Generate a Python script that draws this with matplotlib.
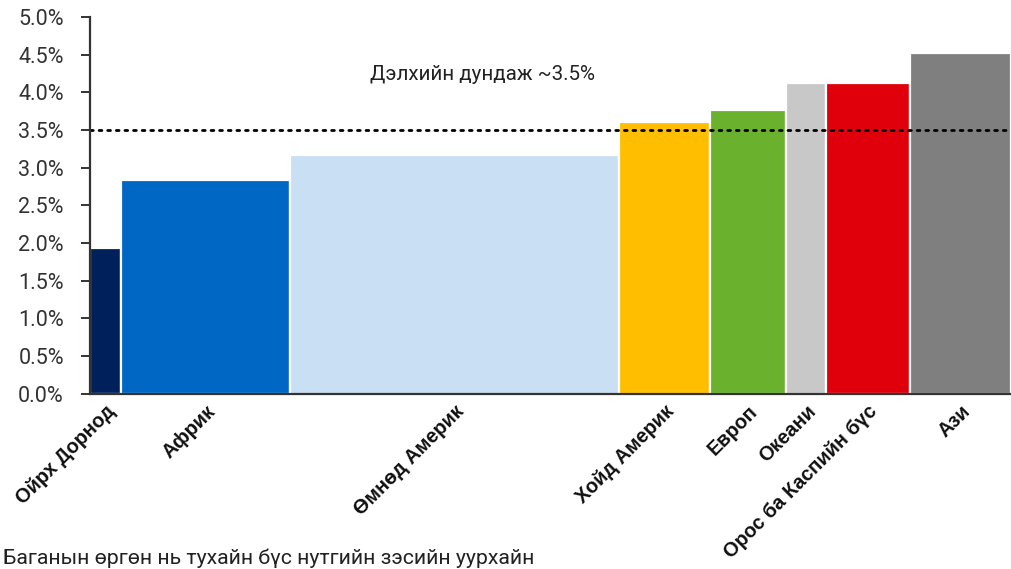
import matplotlib
matplotlib.use("Agg")
import matplotlib.pyplot as plt
import numpy as np

regions = ["Ойрх Дорнод", "Африк", "Өмнөд Америк", "Хойд Америк", "Европ",
           "Океани", "Орос ба Каспийн бүс", "Ази"]
widths = [3.4, 18.4, 35.7, 9.9, 8.3, 4.3, 9.1, 11.0]
values = [1.93, 2.83, 3.17, 3.60, 3.77, 4.12, 4.13, 4.52]
colors = ["#00205B", "#0067C5", "#C9DFF3", "#FFBE00", "#6AB22E",
          "#C8C8C8", "#E0000B", "#7F7F7F"]
world_avg = 3.5
yticks = [0, 0.5, 1.0, 1.5, 2.0, 2.5, 3.0, 3.5, 4.0, 4.5, 5.0]
avg_label = "Дэлхийн дундаж ~3.5%"
note = "Баганын өргөн нь тухайн бүс нутгийн зэсийн уурхайн"

W, H = 1011, 569
fig = plt.figure(figsize=(W / 100, H / 100), dpi=100)
ax = fig.add_axes([89.5 / W, 1 - 393.5 / H, (W - 89.5) / W, (393.5 - 17) / H])

lefts = np.concatenate([[0], np.cumsum(widths)[:-1]])
ax.bar(lefts, values, width=widths, align="edge", color=colors,
       edgecolor="white", linewidth=1.6, zorder=2)

total = float(np.sum(widths))
ax.set_xlim(0, total)
ax.set_ylim(0, 5.0)

ax.axhline(world_avg, color="black", linestyle=(0, (1, 2.1)), linewidth=2.0,
           dash_capstyle="round", zorder=3)
ax.text(30.5, 4.23, avg_label, ha="left", va="center", fontsize=14.8,
        family="Roboto", color="#222222")

ax.set_yticks(yticks)
ax.set_yticklabels([f"{v:.1f}%" for v in yticks], family="Roboto",
                   fontsize=15.5, color="#333333")
ax.tick_params(axis="y", length=6.5, width=1.4, color="#333333", pad=12)

centers = lefts + np.array(widths) / 2
ax.set_xticks(centers)
ax.set_xticklabels(regions, rotation=45, ha="right", va="top",
                   rotation_mode="anchor", fontsize=14.3, fontweight="bold",
                   family="Liberation Sans", color="#111111")
ax.tick_params(axis="x", length=0, pad=6)

for s in ["top", "right"]:
    ax.spines[s].set_visible(False)
for s in ["left", "bottom"]:
    ax.spines[s].set_color("#333333")
    ax.spines[s].set_linewidth(1.6)
    ax.spines[s].set_zorder(4)

fig.text(3 / W, 1 - 564 / H, note, ha="left", va="baseline", fontsize=15.3,
         family="Roboto", color="#222222")

fig.savefig("out.png", dpi=100)
